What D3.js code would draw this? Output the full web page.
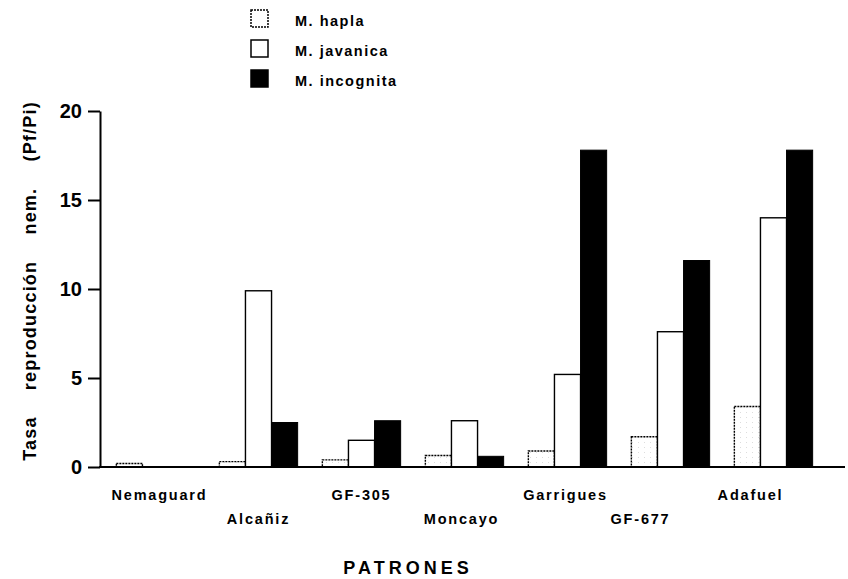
<!DOCTYPE html>
<html>
<head>
<meta charset="utf-8">
<script src="https://cdn.jsdelivr.net/npm/d3@7"></script>
<style>
  html, body { margin: 0; padding: 0; background: #fff; }
  svg { display: block; font-family: "Liberation Sans", Arial, Helvetica, sans-serif; }
</style>
</head>
<body>
<svg id="chart" width="848" height="579"></svg>
<script>
// ---- data ----
const categories = ["Nemaguard", "Alcañiz", "GF-305", "Moncayo", "Garrigues", "GF-677", "Adafuel"];
const series = ["M. hapla", "M. javanica", "M. incognita"];
const hapla     = [0.2, 0.3, 0.4, 0.65, 0.9, 1.7, 3.4];
const javanica  = [0, 9.9, 1.5, 2.6, 5.2, 7.6, 14.0];
const incognita = [0, 2.5, 2.6, 0.6, 17.8, 11.6, 17.8];
const yTicks = [0, 5, 10, 15, 20];
const yTitle = "Tasa reproducción nem. (Pf/Pi)";
const xTitle = "PATRONES";

// ---- layout (not data) ----
const labelDx  = [4, 0, 0, -3, -2, -30, -23];
const labelRow = [0, 1, 0, 1, 0, 1, 0];

const svg = d3.select("#chart");
const defs = svg.append("defs");
const pat = defs.append("pattern").attr("id", "dots").attr("patternUnits", "userSpaceOnUse")
  .attr("width", 6).attr("height", 5);
pat.append("rect").attr("width", 6).attr("height", 5).attr("fill", "#fff");
pat.append("rect").attr("x", 2).attr("y", 2).attr("width", 1).attr("height", 1).attr("fill", "#ddd");

const x = d3.scaleBand().domain(categories).range([104, 825]).paddingInner(0.24).paddingOuter(0.12);
const xs = d3.scaleBand().domain(series).range([0, x.bandwidth()]).padding(0);
const y = d3.scaleLinear().domain([0, 20]).range([467, 111]);

const values = { "M. hapla": hapla, "M. javanica": javanica, "M. incognita": incognita };
const styles = {
  "M. hapla":     { fill: "url(#dots)", stroke: "#000", dash: "2,1", sw: 1.4 },
  "M. javanica":  { fill: "#fff", stroke: "#000", dash: null, sw: 1.4 },
  "M. incognita": { fill: "#000", stroke: "#000", dash: null, sw: 1 }
};

// bars
const rows = [];
categories.forEach((c, i) => series.forEach(s => rows.push({ c, s, v: values[s][i] })));
svg.append("g").selectAll("rect").data(rows.filter(d => d.v > 0)).join("rect")
  .attr("x", d => x(d.c) + xs(d.s))
  .attr("y", d => y(d.v))
  .attr("width", xs.bandwidth())
  .attr("height", d => y(0) - y(d.v))
  .attr("fill", d => styles[d.s].fill)
  .attr("stroke", d => styles[d.s].stroke)
  .attr("stroke-width", d => styles[d.s].sw)
  .attr("stroke-dasharray", d => styles[d.s].dash);

// y axis
const yAxis = d3.axisLeft(y).tickValues(yTicks).tickSize(12).tickPadding(6).tickSizeOuter(0);
const gy = svg.append("g").attr("transform", "translate(100,0)").call(yAxis);
gy.select(".domain").attr("stroke", "#000").attr("stroke-width", 2);
gy.selectAll(".tick line").attr("stroke", "#000").attr("stroke-width", 2);
gy.selectAll(".tick text").attr("font-size", 20).attr("font-weight", "bold")
  .attr("fill", "#000").attr("font-family", "'Liberation Sans', Arial, sans-serif");

// x axis baseline
svg.append("line").attr("x1", 99).attr("x2", 845).attr("y1", y(0)).attr("y2", y(0))
  .attr("stroke", "#000").attr("stroke-width", 2.2);

// category labels
svg.append("g").selectAll("text").data(categories).join("text")
  .attr("x", (d, i) => x(d) + x.bandwidth() / 2 + labelDx[i])
  .attr("y", (d, i) => labelRow[i] ? 524 : 500)
  .attr("text-anchor", "middle")
  .attr("font-size", 14.5).attr("font-weight", "bold").attr("letter-spacing", 1.8)
  .text(d => d);

// x title
svg.append("text").attr("x", 408).attr("y", 574).attr("text-anchor", "middle")
  .attr("font-size", 18).attr("font-weight", "bold").attr("letter-spacing", 4)
  .text(xTitle);

// y title
svg.append("text").attr("transform", "translate(36,281) rotate(-90)")
  .attr("text-anchor", "middle").attr("font-size", 18).attr("font-weight", "bold")
  .attr("letter-spacing", 1.2).attr("word-spacing", 20)
  .text(yTitle);

// legend
const lg = svg.append("g").selectAll("g").data(series).join("g")
  .attr("transform", (d, i) => `translate(251,${10 + i * 30})`);
lg.append("rect").attr("width", 17).attr("height", 17)
  .attr("fill", d => d === "M. hapla" ? "#fff" : styles[d].fill)
  .attr("stroke", d => styles[d].stroke)
  .attr("stroke-width", 1.5)
  .attr("stroke-dasharray", d => styles[d].dash);
lg.append("text").attr("x", 44).attr("y", 16)
  .attr("font-size", 14.5).attr("font-weight", "bold").attr("letter-spacing", 1.5)
  .text(d => d);
</script>
</body>
</html>
